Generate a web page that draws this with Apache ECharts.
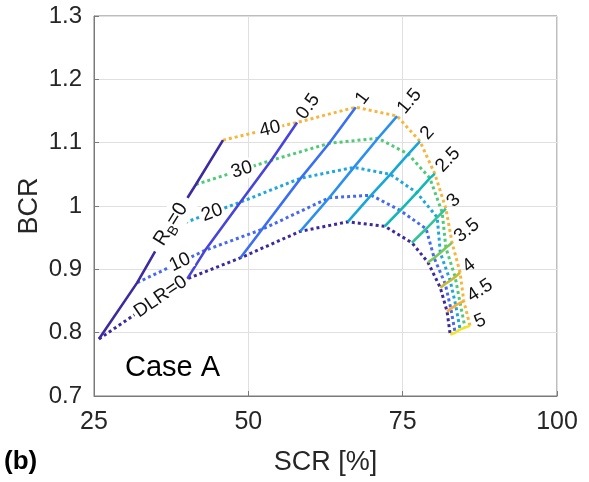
<!DOCTYPE html>
<html><head><meta charset="utf-8">
<script src="https://cdn.jsdelivr.net/npm/echarts@6/dist/echarts.min.js"></script>
<style>html,body{margin:0;padding:0;background:#fff}#c{width:589px;height:482px}</style>
</head><body><div id="c"></div>
<script>
// ---- data ----
const RB = [0, 0.5, 1, 1.5, 2, 2.5, 3, 3.5, 4, 4.5, 5];
const RB_LABELS = ['0', '0.5', '1', '1.5', '2', '2.5', '3', '3.5', '4', '4.5', '5'];
const DLR = [0, 10, 20, 30, 40];
const DLR_LABELS = ['DLR=0', '10', '20', '30', '40'];

const SCR_DLR0  = [25.8, 40.1, 48.7, 58.4, 66.1, 72.1, 76.5, 79.1, 81.1, 82.2, 82.7];
const BCR_DLR0  = [0.790, 0.885, 0.918, 0.960, 0.975, 0.968, 0.942, 0.911, 0.871, 0.833, 0.797];
const SCR_DLR10 = [32.0, 43.0, 52.2, 63.1, 69.9, 74.6, 78.8, 80.1, 81.9, 82.8, 83.5];
const BCR_DLR10 = [0.879, 0.930, 0.963, 1.013, 1.017, 0.993, 0.964, 0.918, 0.877, 0.838, 0.800];
const SCR_DLR20 = [37.0, 48.7, 58.5, 67.1, 73.0, 77.3, 80.6, 81.1, 82.7, 83.6, 84.3];
const BCR_DLR20 = [0.964, 1.006, 1.044, 1.061, 1.050, 1.021, 0.982, 0.926, 0.882, 0.843, 0.805];
const SCR_DLR30 = [41.5, 53.7, 63.1, 71.0, 75.9, 79.4, 81.4, 82.0, 83.5, 84.3, 85.1];
const BCR_DLR30 = [1.034, 1.072, 1.099, 1.107, 1.082, 1.044, 0.990, 0.934, 0.888, 0.847, 0.808];
const SCR_DLR40 = [45.9, 57.9, 67.4, 74.1, 77.8, 80.2, 82.0, 83.0, 84.3, 84.9, 85.9];
const BCR_DLR40 = [1.104, 1.132, 1.156, 1.142, 1.102, 1.051, 0.996, 0.942, 0.895, 0.850, 0.811];

const X_MIN = 25, X_MAX = 100, X_STEP = 25;
const Y_MIN = 0.7, Y_MAX = 1.3, Y_STEP = 0.1;

// ---- styles ----
const FONT = '"Liberation Sans", Arial, Helvetica, sans-serif';
const DLR_COLORS = ['#3b2a9e', '#4669f0', '#1ea7dc', '#4fcb78', '#f8b53c'];
const RB_COLORS = ['#3d2aa0', '#4744dc', '#3a6ff2', '#2b8ff0', '#17a6da', '#12b8b6', '#32c39a', '#7cc75a', '#c8bd2e', '#f9ad3a', '#f3e424'];
const LABEL_SIZE = 19;

const SCR = [SCR_DLR0, SCR_DLR10, SCR_DLR20, SCR_DLR30, SCR_DLR40];
const BCR = [BCR_DLR0, BCR_DLR10, BCR_DLR20, BCR_DLR30, BCR_DLR40];

const chart = echarts.init(document.getElementById('c'), null, {renderer: 'canvas'});

const series = [];
DLR.forEach((d, k) => {
  series.push({
    type: 'line', name: 'DLR=' + d, silent: true, symbol: 'none', z: 2,
    data: SCR[k].map((x, i) => [x, BCR[k][i]]),
    lineStyle: {color: DLR_COLORS[k], width: 3, type: [3, 3], cap: 'butt'}
  });
});
RB.forEach((r, i) => {
  series.push({
    type: 'line', name: 'RB=' + r, silent: true, symbol: 'none', z: 3,
    data: DLR.map((d, k) => [SCR[k][i], BCR[k][i]]),
    lineStyle: {color: RB_COLORS[i], width: 2.6}
  });
});

const axisCommon = {
  nameLocation: 'middle',
  nameMoveOverlap: false,
  nameTextStyle: {fontSize: 27, color: '#262626', fontFamily: FONT},
  axisLine: {show: true, onZero: false, lineStyle: {color: '#7a7a7a', width: 1}},
  axisTick: {show: true, inside: true, length: 5, lineStyle: {color: '#7a7a7a'}},
  splitLine: {show: true, lineStyle: {color: '#e0e0e0', width: 1}}
};

chart.setOption({
  animation: false,
  grid: {left: 94, right: 32, top: 16, bottom: 86, show: true, borderColor: '#7a7a7a', borderWidth: 1, backgroundColor: '#fff'},
  xAxis: Object.assign({}, axisCommon, {
    type: 'value', min: X_MIN, max: X_MAX, interval: X_STEP,
    name: 'SCR [%]', nameGap: 53,
    axisLabel: {fontSize: 25, color: '#262626', margin: 14, fontFamily: FONT}
  }),
  yAxis: Object.assign({}, axisCommon, {
    type: 'value', min: Y_MIN, max: Y_MAX, interval: Y_STEP,
    name: 'BCR', nameGap: 51,
    axisLabel: {fontSize: 24, color: '#262626', margin: 12, fontFamily: FONT,
      formatter: v => String(Number(v.toFixed(1)))}
  }),
  series: series
});

// ---- annotations placed through the chart's own scales ----
const P = (x, y) => chart.convertToPixel({gridIndex: 0}, [x, y]);
const charW = c => (c === '.' ? 0.278 : 0.556);

function inlineText(a, b, t, style) {
  const A = P(a[0], a[1]), B = P(b[0], b[1]);
  const cx = A[0] + (B[0] - A[0]) * t, cy = A[1] + (B[1] - A[1]) * t;
  const ang = Math.atan2(-(B[1] - A[1]), B[0] - A[0]);
  return {type: 'text', x: cx, y: cy, rotation: ang, z: 100, silent: true,
    style: Object.assign({fontSize: LABEL_SIZE, fontFamily: FONT, fill: '#111', align: 'center', verticalAlign: 'middle',
      backgroundColor: '#fff', padding: [0, 2]}, style)};
}

const graphics = [];
const DLR_LABEL_T = [0.70, 0.63, 0.61, 0.61, 0.635];
DLR.forEach((d, k) => {
  graphics.push(inlineText([SCR[k][0], BCR[k][0]], [SCR[k][1], BCR[k][1]], DLR_LABEL_T[k], {text: DLR_LABELS[k]}));
});
// R_B = 0 label on the R_B=0 line
graphics.push(inlineText([SCR[2][0], BCR[2][0]], [SCR[3][0], BCR[3][0]], 0.1, {
  text: '{n|R}{s|B}{n|=0}', padding: [0, 8],
  rich: {n: {fontSize: 20, fontFamily: FONT, fill: '#111', lineHeight: 26, verticalAlign: 'middle'},
         s: {fontSize: 14, fontFamily: FONT, fill: '#111', lineHeight: 14, verticalAlign: 'bottom'}}
}));
// R_B value labels beyond the DLR=40 end of each line
for (let i = 1; i < RB.length; i++) {
  const A = P(SCR[0][i], BCR[0][i]), B = P(SCR[4][i], BCR[4][i]);
  const dx = B[0] - A[0], dy = B[1] - A[1], L = Math.hypot(dx, dy);
  const ux = dx / L, uy = dy / L;
  const w = RB_LABELS[i].split('').reduce((s, c) => s + charW(c), 0) * LABEL_SIZE;
  const d = 6 + w / 2;
  graphics.push({type: 'text', x: B[0] + ux * d, y: B[1] + uy * d, rotation: Math.atan2(-dy, dx), z: 100, silent: true,
    style: {text: RB_LABELS[i], fontSize: LABEL_SIZE, fontFamily: FONT, fill: '#111', align: 'center', verticalAlign: 'middle'}});
}
graphics.push({type: 'text', x: 125, y: 368, z: 100, silent: true,
  style: {text: 'Case A', fontSize: 29, fontFamily: FONT, fill: '#000', align: 'left', verticalAlign: 'middle'}});
graphics.push({type: 'text', x: 4, y: 462, z: 100, silent: true,
  style: {text: '(b)', fontSize: 26, fontWeight: 'bold', fontFamily: FONT, fill: '#000', align: 'left', verticalAlign: 'middle'}});

chart.setOption({graphic: graphics});
</script>
</body></html>
